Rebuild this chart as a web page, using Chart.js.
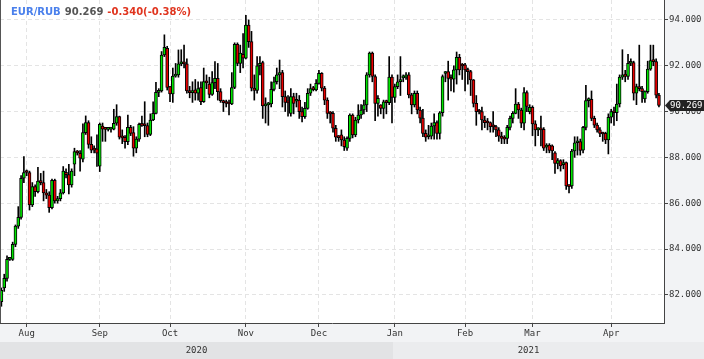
<!DOCTYPE html>
<html>
<head>
<meta charset="utf-8">
<script src="https://cdn.jsdelivr.net/npm/chart.js@4.4.0/dist/chart.umd.min.js"></script>
<style>
  html, body { margin: 0; padding: 0; background: #fff; }
  #wrap { width: 704px; height: 359px; }
</style>
</head>
<body>
<div id="wrap"><canvas id="chart"></canvas></div>
<script>
// EUR/RUB daily candles, late Jul 2020 - Apr 2021
const opens = [
  81.7, 82.3, 82.72, 83.55, 83.55, 84.2, 85.0, 85.38, 87.09, 87.36,
  87.34, 85.92, 86.73, 86.5, 86.97, 86.9, 86.45, 86.35, 85.8, 87.0,
  86.1, 86.2, 86.45, 87.35, 87.25, 86.8, 87.7, 88.25, 88.18, 87.92,
  89.08, 89.52, 88.57, 88.35, 88.37, 87.62, 89.37, 89.23, 89.22, 89.23,
  89.23, 89.49, 89.78, 88.88, 88.88, 88.69, 89.31, 89.08, 88.4, 88.8,
  89.44, 89.4, 89.39, 89.0, 89.63, 89.92, 90.84, 90.9, 92.47, 92.76,
  91.09, 90.77, 91.55, 91.6, 92.08, 92.1, 92.08, 90.9, 90.83, 90.95,
  90.8, 91.05, 90.43, 91.31, 91.2, 90.75, 91.26, 91.45, 90.87, 90.48,
  90.38, 90.35, 90.33, 91.05, 92.94, 92.1, 92.5, 92.33, 93.78, 93.05,
  91.02, 90.92, 92.0, 92.14, 90.25, 90.29, 90.33, 90.97, 91.3, 91.6,
  91.7, 90.65, 90.4, 89.92, 90.65, 90.45, 90.5, 90.0, 89.78, 90.14,
  90.8, 91.0, 90.94, 91.23, 91.67, 91.02, 90.5, 89.92, 89.92, 89.27,
  88.88, 88.98, 88.76, 88.4, 88.83, 89.85, 88.98, 89.63, 89.85, 90.07,
  90.29, 91.6, 92.55, 91.53, 90.36, 90.29, 90.14, 90.4, 90.39, 91.5,
  90.62, 91.09, 91.3, 91.47, 91.5, 91.6, 90.73, 90.29, 90.8, 90.07,
  89.71, 89.05, 88.9, 88.93, 89.37, 89.52, 89.05, 89.95, 91.66, 91.74,
  91.45, 91.41, 91.82, 92.37, 92.04, 92.04, 91.82, 91.74, 91.38, 90.36,
  90.0, 90.0, 89.63, 89.52, 89.52, 89.34, 89.34, 89.2, 88.93, 88.85,
  88.83, 89.31, 89.7, 89.92, 90.33, 90.07, 89.49, 90.83, 90.0, 90.19,
  89.46, 89.2, 89.22, 89.22, 88.45, 88.54, 88.5, 88.2, 87.74, 87.86,
  87.68, 87.77, 86.75, 86.75, 88.28, 88.64, 88.69, 88.32, 89.31, 90.48,
  90.53, 89.7, 89.41, 89.2, 89.05, 89.05, 88.76, 89.75, 90.0, 89.95,
  90.33, 91.5, 91.64, 91.53, 92.11, 92.14, 90.8, 91.09, 91.0, 90.55,
  90.87, 91.85, 92.23, 92.18, 90.72
];
const highs = [
  82.3, 82.9, 83.7, 83.62, 84.3, 85.05, 85.85, 87.2, 88.03, 87.45,
  87.4, 86.9, 86.8, 87.57, 87.3, 87.4, 86.6, 86.5, 87.05, 87.05,
  86.3, 86.6, 87.6, 87.5, 87.7, 87.5, 88.4, 88.3, 88.3, 89.46,
  89.81, 89.6, 88.9, 88.5, 88.98, 89.5, 89.5, 89.3, 89.3, 89.3,
  90.1, 90.3, 89.8, 89.2, 88.95, 89.85, 89.4, 89.34, 88.9, 89.5,
  89.8, 90.43, 89.5, 89.9, 90.43, 91.28, 91.0, 92.62, 93.35, 92.85,
  91.1, 91.9, 92.1, 92.69, 92.7, 92.9, 92.3, 91.1, 91.3, 91.4,
  91.3, 91.3, 91.9, 91.6, 91.5, 91.74, 92.18, 92.1, 91.0, 90.5,
  90.5, 90.5, 91.7, 93.0, 93.0, 92.9, 93.4, 94.2, 94.0, 93.5,
  91.6, 92.4, 92.4, 92.2, 90.6, 90.4, 91.3, 91.5, 91.9, 92.25,
  91.8, 90.9, 90.7, 91.0, 90.8, 90.8, 90.7, 90.2, 90.4, 91.0,
  91.2, 91.1, 91.4, 91.8, 91.7, 91.1, 90.6, 90.0, 90.0, 89.4,
  88.95, 89.2, 88.9, 88.9, 89.9, 89.9, 89.75, 90.3, 90.3, 90.5,
  91.7, 92.6, 92.6, 91.6, 90.7, 90.3, 90.5, 90.5, 92.4, 91.6,
  91.2, 91.6, 92.4, 91.6, 91.7, 91.7, 90.8, 90.9, 90.9, 90.2,
  90.1, 89.2, 89.4, 89.5, 89.9, 89.6, 90.0, 91.6, 91.75, 92.2,
  91.6, 92.0, 92.6, 92.5, 92.1, 92.1, 91.9, 91.8, 91.4, 90.7,
  90.1, 90.2, 89.8, 89.7, 89.55, 90.0, 89.4, 89.3, 89.1, 88.95,
  89.4, 89.8, 90.0, 91.0, 90.4, 90.15, 91.05, 90.9, 90.3, 90.25,
  89.6, 89.3, 89.8, 89.3, 88.6, 88.6, 88.55, 88.25, 87.95, 87.9,
  87.9, 87.8, 86.8, 88.35, 88.9, 88.9, 88.8, 89.35, 91.15, 90.6,
  90.9, 89.8, 89.5, 89.3, 89.1, 89.1, 89.9, 90.1, 90.2, 91.2,
  91.6, 92.7, 91.8, 92.5, 92.3, 92.2, 91.2, 92.9, 91.1, 90.9,
  92.2, 92.9, 92.9, 92.3, 90.8
];
const lows = [
  81.5, 82.15, 82.6, 83.5, 83.5, 84.1, 84.9, 85.3, 86.9, 87.2,
  85.7, 85.85, 86.3, 86.45, 86.8, 86.1, 86.2, 85.6, 85.75, 86.0,
  86.0, 86.1, 86.4, 87.1, 86.4, 86.7, 87.2, 88.1, 87.4, 87.8,
  89.0, 88.4, 88.2, 88.2, 87.6, 87.38, 88.7, 88.7, 89.15, 89.1,
  89.2, 89.4, 88.8, 88.6, 88.4, 88.55, 88.95, 88.05, 88.2, 88.7,
  89.35, 88.9, 88.9, 88.95, 89.6, 89.9, 90.65, 90.85, 92.4, 90.94,
  90.43, 90.4, 91.5, 91.5, 92.0, 91.9, 90.8, 90.6, 90.4, 90.5,
  90.5, 90.3, 90.4, 91.0, 90.6, 90.7, 91.0, 90.5, 90.4, 90.0,
  90.2, 89.85, 90.3, 91.0, 92.0, 91.7, 91.9, 92.3, 92.8, 90.9,
  90.5, 90.8, 91.6, 89.7, 89.5, 89.4, 90.2, 90.9, 91.2, 91.0,
  90.2, 90.0, 89.8, 89.8, 89.9, 90.2, 89.7, 89.55, 89.7, 90.1,
  90.7, 90.9, 90.9, 91.2, 90.9, 90.3, 89.7, 89.5, 89.1, 88.7,
  88.7, 88.5, 88.3, 88.3, 88.7, 88.85, 88.9, 89.5, 89.7, 89.9,
  90.0, 91.5, 91.3, 89.6, 89.8, 89.9, 89.7, 89.9, 90.3, 89.5,
  90.4, 91.0, 90.7, 91.3, 91.4, 90.6, 89.9, 90.2, 89.9, 89.5,
  88.9, 88.7, 88.8, 88.8, 88.8, 88.8, 88.8, 89.8, 91.3, 90.5,
  90.9, 90.85, 91.2, 91.6, 91.4, 90.9, 91.2, 90.7, 90.2, 89.4,
  89.9, 89.2, 89.3, 89.2, 89.1, 89.1, 88.9, 88.7, 88.6, 88.6,
  88.6, 89.2, 89.5, 89.9, 89.7, 89.3, 89.2, 90.0, 89.9, 88.95,
  88.5, 88.95, 88.5, 88.3, 88.2, 88.2, 87.9, 87.3, 87.5, 87.4,
  87.5, 86.6, 86.45, 86.65, 88.0, 88.1, 88.1, 88.2, 89.2, 90.2,
  89.6, 89.3, 89.1, 88.9, 88.7, 88.6, 88.15, 89.5, 89.4, 89.6,
  90.2, 91.4, 91.3, 91.4, 92.0, 90.5, 90.3, 90.9, 90.4, 90.4,
  90.8, 91.8, 92.0, 90.6, 90.2
];
const closes = [
  82.2, 82.72, 83.55, 83.58, 84.2, 85.0, 85.38, 87.09, 87.34, 87.34,
  85.92, 86.73, 86.5, 86.97, 86.9, 86.45, 86.35, 85.8, 87.0, 86.1,
  86.2, 86.45, 87.4, 87.25, 86.8, 87.4, 88.25, 88.2, 87.96, 89.08,
  89.52, 88.57, 88.32, 88.32, 88.18, 89.44, 89.23, 89.22, 89.23, 89.23,
  89.49, 89.78, 88.88, 88.85, 88.69, 89.31, 89.05, 88.4, 88.8, 89.44,
  89.4, 89.38, 89.0, 89.63, 89.92, 90.84, 90.9, 92.47, 92.8, 91.05,
  90.77, 91.55, 91.6, 92.08, 92.1, 92.08, 90.9, 90.83, 90.85, 90.8,
  91.0, 90.43, 91.31, 91.25, 90.75, 91.26, 91.45, 90.87, 90.48, 90.39,
  90.35, 90.33, 91.05, 92.94, 92.1, 92.55, 92.33, 93.78, 93.05, 91.02,
  90.92, 92.0, 92.1, 90.25, 90.29, 90.33, 90.97, 91.3, 91.6, 91.7,
  90.65, 90.4, 90.38, 90.65, 90.36, 90.52, 90.0, 89.78, 90.14, 90.8,
  91.0, 90.96, 91.23, 91.67, 91.02, 90.5, 89.92, 89.9, 89.27, 88.88,
  88.86, 88.76, 88.47, 88.83, 89.85, 88.98, 89.63, 89.85, 90.07, 90.29,
  91.6, 92.55, 91.53, 90.36, 90.58, 90.14, 90.43, 90.39, 91.5, 90.62,
  91.09, 91.3, 91.4, 91.5, 91.6, 90.73, 90.29, 90.8, 90.07, 89.71,
  89.05, 88.88, 88.93, 89.37, 89.52, 89.05, 89.95, 91.53, 91.7, 91.45,
  91.41, 91.82, 92.37, 91.82, 91.99, 91.82, 91.74, 91.38, 90.36, 90.0,
  89.98, 89.63, 89.52, 89.5, 89.34, 89.33, 89.2, 88.93, 88.83, 88.8,
  89.31, 89.7, 89.92, 90.33, 90.07, 89.49, 90.83, 90.22, 90.19, 89.46,
  89.2, 89.22, 89.2, 88.4, 88.47, 88.3, 88.28, 87.74, 87.86, 87.63,
  87.77, 86.75, 86.72, 88.28, 88.64, 88.69, 88.3, 89.31, 90.48, 90.52,
  89.7, 89.41, 89.2, 89.05, 89.02, 88.76, 89.75, 90.0, 89.95, 90.33,
  91.5, 91.6, 91.53, 92.11, 92.15, 90.8, 91.09, 91.0, 90.87, 90.87,
  91.85, 92.23, 92.18, 90.72, 90.269
];

// first candle of each month (candle index) and its label
const monthTicks = [9, 35, 60, 87, 113, 140, 165, 189, 217];
const monthLabels = ['Aug', 'Sep', 'Oct', 'Nov', 'Dec', 'Jan', 'Feb', 'Mar', 'Apr'];
const yearStarts = [0, 140];
const yearLabels = ['2020', '2021'];
const priceTicks = [82, 84, 86, 88, 90, 92, 94];

const symbol = 'EUR/RUB';
const lastPrice = 90.269;
const change = -0.340;
const changePct = -0.38;

const UP = '#00e400';
const DOWN = '#e80000';
const MONO = '"DejaVu Sans Mono", monospace';

const wickData = lows.map((l, i) => ({ x: i, y: [l, highs[i]] }));
const bodyData = opens.map((o, i) => ({ x: i, y: [o, closes[i]] }));
const bodyColors = opens.map((o, i) => closes[i] >= o ? UP : DOWN);

const frame = {
  id: 'frame',
  beforeDraw(chart) {
    const { ctx, chartArea: a, width, height, scales: { x } } = chart;
    ctx.save();
    ctx.fillStyle = '#f2f3f5';
    ctx.fillRect(0, 0, width, height);
    ctx.fillStyle = '#fff';
    ctx.fillRect(a.left, a.top, a.right - a.left, a.bottom - a.top);
    // year band under the month labels
    const bandTop = a.bottom + 19;
    const split = Math.round(x.getPixelForValue(yearStarts[1] - 0.5));
    ctx.fillStyle = '#e2e3e5';
    ctx.fillRect(0, bandTop, split, height - bandTop);
    ctx.fillStyle = '#ebecee';
    ctx.fillRect(split, bandTop, width - split, height - bandTop);
    ctx.restore();
  },
  afterDraw(chart) {
    const { ctx, chartArea: a, height, scales: { x, y } } = chart;
    ctx.save();
    // left frame line
    ctx.strokeStyle = '#555';
    ctx.lineWidth = 1;
    ctx.beginPath();
    ctx.moveTo(a.left + 0.5, a.top);
    ctx.lineTo(a.left + 0.5, a.bottom);
    ctx.stroke();

    // year labels
    const bandTop = a.bottom + 19;
    const split = Math.round(x.getPixelForValue(yearStarts[1] - 0.5));
    ctx.font = '9px ' + MONO;
    ctx.fillStyle = '#333';
    ctx.textAlign = 'center';
    ctx.textBaseline = 'middle';
    ctx.fillText(yearLabels[0], (a.left + split) / 2, bandTop + 9);
    ctx.fillText(yearLabels[1], (split + a.right) / 2, bandTop + 9);

    // last price marker on the right axis
    const py = Math.round(y.getPixelForValue(lastPrice)) + 0.5;
    ctx.fillStyle = '#222';
    ctx.beginPath();
    ctx.moveTo(a.right + 1, py);
    ctx.lineTo(a.right + 6, py - 5.5);
    ctx.lineTo(a.right + 40, py - 5.5);
    ctx.lineTo(a.right + 40, py + 5.5);
    ctx.lineTo(a.right + 6, py + 5.5);
    ctx.closePath();
    ctx.fill();
    ctx.fillStyle = '#fff';
    ctx.textAlign = 'left';
    ctx.fillText(lastPrice.toFixed(3), a.right + 6, py + 0.5);

    // title line
    ctx.font = 'bold 10px "DejaVu Sans", sans-serif';
    ctx.textAlign = 'left';
    let tx = 11;
    const parts = [
      [symbol, '#4a80ec'],
      [lastPrice.toFixed(3), '#555'],
      [change.toFixed(3) + '(' + changePct.toFixed(2) + '%)', '#e0351f']
    ];
    parts.forEach(([t, c]) => {
      ctx.fillStyle = c;
      ctx.fillText(t, tx, 12);
      tx += ctx.measureText(t).width + 4;
    });
    ctx.restore();
  }
};

new Chart(document.getElementById('chart'), {
  type: 'bar',
  data: {
    datasets: [
      {
        data: wickData,
        backgroundColor: '#000',
        borderWidth: 0,
        barThickness: 1,
        grouped: false,
        order: 2
      },
      {
        data: bodyData,
        backgroundColor: bodyColors,
        borderColor: '#000',
        borderWidth: 1,
        borderSkipped: false,
        barThickness: 3,
        minBarLength: 2,
        grouped: false,
        order: 1
      }
    ]
  },
  options: {
    responsive: true,
    maintainAspectRatio: false,
    animation: false,
    layout: { padding: 0 },
    plugins: { legend: { display: false }, tooltip: { enabled: false } },
    scales: {
      x: {
        type: 'linear',
        min: -0.5,
        max: 235.8,
        offset: false,
        afterBuildTicks: (s) => { s.ticks = monthTicks.map(v => ({ value: v })); },
        afterFit: (s) => { s.height = 36; s.paddingLeft = 0; s.paddingRight = 0; },
        ticks: {
          autoSkip: false,
          maxRotation: 0,
          padding: 1,
          color: '#333',
          font: { family: MONO, size: 9 },
          callback: (v, i) => monthLabels[i]
        },
        grid: { offset: false, color: '#e4e4e4', tickColor: '#444', tickLength: 4, drawTicks: true },
        border: { display: true, color: '#444', width: 1, dash: [4, 3] }
      },
      y: {
        position: 'right',
        min: 80.77,
        max: 94.87,
        afterBuildTicks: (s) => { s.ticks = priceTicks.map(v => ({ value: v })); },
        afterFit: (s) => { s.width = 40; s.paddingTop = 0; s.paddingBottom = 0; },
        ticks: {
          padding: 1,
          color: '#333',
          font: { family: MONO, size: 9 },
          callback: (v) => Number(v).toFixed(3)
        },
        grid: { color: '#e4e4e4', tickColor: '#444', tickLength: 4, drawTicks: true },
        border: { display: true, color: '#444', width: 1, dash: [4, 3] }
      }
    }
  },
  plugins: [frame]
});
</script>
</body>
</html>
